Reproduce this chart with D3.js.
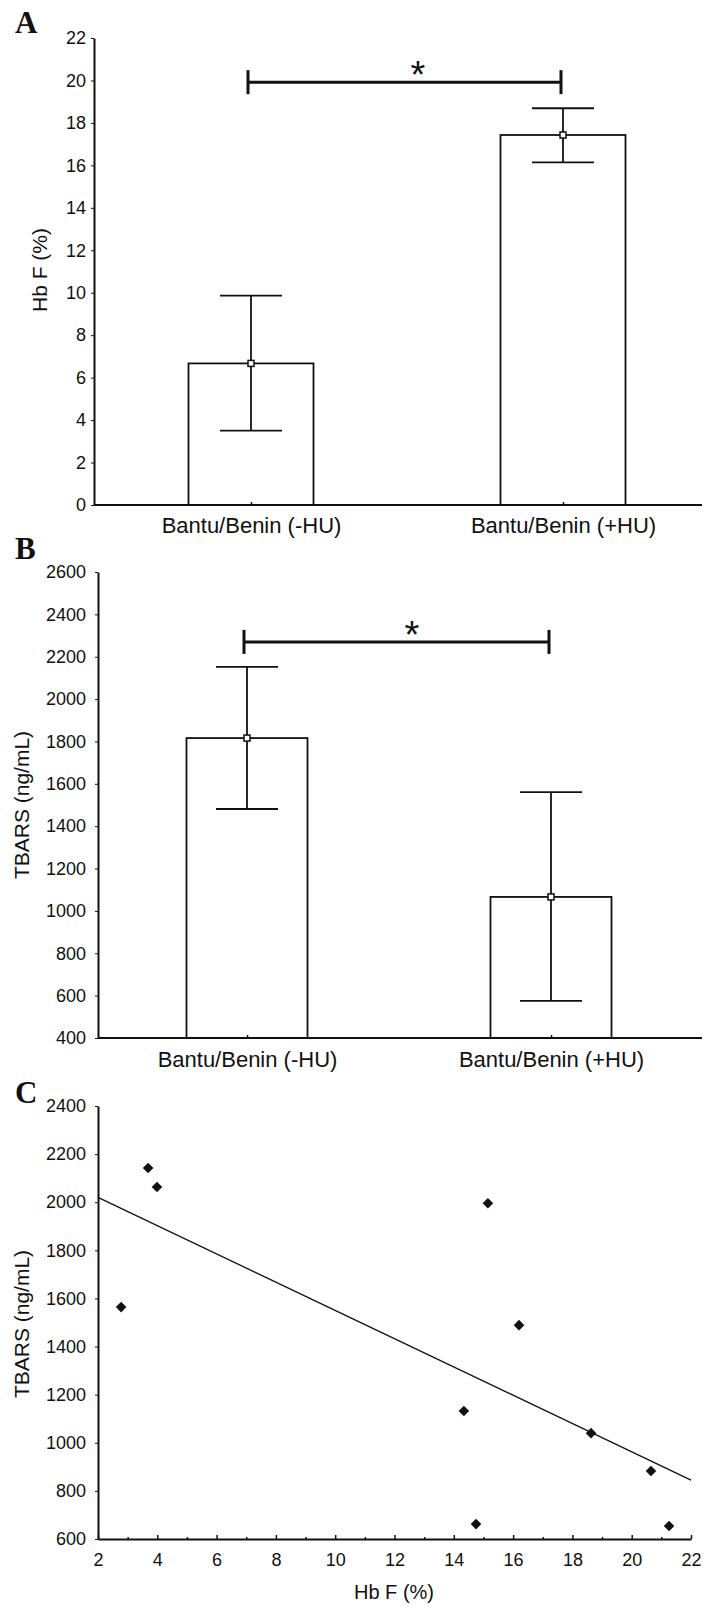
<!DOCTYPE html>
<html>
<head>
<meta charset="utf-8">
<script src="https://cdnjs.cloudflare.com/ajax/libs/d3/7.8.5/d3.min.js"></script>
<style>
	body { margin: 0; background: #fff; }
	svg { display: block; font-family: "Liberation Sans", Arial, sans-serif; }
	.axis text { fill: #111; font-size: 18px; font-family: "Liberation Sans", Arial, sans-serif; }
	.axis path, .axis line { stroke: #111; }
</style>
</head>
<body>
<svg id="fig" width="715" height="1607"></svg>
<script>
// data
var groups = ["Bantu/Benin (-HU)", "Bantu/Benin (+HU)"];

var hbfMean = [6.67, 17.43];
var hbfLow = [3.5, 16.14];
var hbfHigh = [9.86, 18.69];
var hbfTicks = [0, 2, 4, 6, 8, 10, 12, 14, 16, 18, 20, 22];
var hbfSig = 19.92;

var tbarsMean = [1816, 1066];
var tbarsLow = [1481, 575];
var tbarsHigh = [2152, 1561];
var tbarsTicks = [400, 600, 800, 1000, 1200, 1400, 1600, 1800, 2000, 2200, 2400, 2600];
var tbarsSig = 2270;

var scatterHbF = [2.78, 3.69, 3.99, 14.34, 14.75, 15.15, 16.2, 18.63, 20.65, 21.26];
var scatterTBARS = [1564, 2142, 2063, 1132, 662, 1996, 1489, 1040, 883, 654];
var fitX = [2, 22];
var fitY = [2020, 845];
var xTicksC = [2, 4, 6, 8, 10, 12, 14, 16, 18, 20, 22];
var xMinorC = [3, 5, 7, 9, 11, 13, 15, 17, 19, 21];
var yTicksC = [600, 800, 1000, 1200, 1400, 1600, 1800, 2000, 2200, 2400];

var fmt = d3.format("d");
var svg = d3.select("#fig");
svg.append("rect").attr("width", 715).attr("height", 1607).attr("fill", "#fff");

var panelLabel = function(txt, y) {
	svg.append("text").attr("x", 15).attr("y", y).text(txt)
		.style("font-family", "'Liberation Serif', 'Times New Roman', serif")
		.style("font-weight", "bold").style("font-size", "31px").attr("fill", "#111");
};

var yTitle = function(txt, cx, cy) {
	svg.append("text").attr("transform", "translate(" + cx + "," + cy + ") rotate(-90)")
		.attr("text-anchor", "middle").attr("dy", "0.35em")
		.style("font-size", "21px").attr("fill", "#111").text(txt);
};

// bar panel with error bars and significance bracket
var barPanel = function(opt) {
	var x = d3.scalePoint().domain(groups).range(opt.centers);
	var y = d3.scaleLinear().domain(opt.domain).range(opt.yRange);
	var g = svg.append("g");
	var bw = opt.barWidth, cap = 62;

	g.append("g").attr("class", "axis").attr("transform", "translate(" + opt.axisX + ",0)")
		.call(d3.axisLeft(y).tickValues(opt.ticks).tickFormat(fmt).tickSize(3).tickSizeOuter(0).tickPadding(opt.pad))
		.call(function(a) { a.select(".domain").attr("stroke-width", 2); });

	// baseline
	g.append("line").attr("x1", opt.axisX).attr("x2", 702)
		.attr("y1", y(opt.domain[0])).attr("y2", y(opt.domain[0]))
		.attr("stroke", "#111").attr("stroke-width", 2);

	var xa = g.append("g").attr("class", "axis").attr("transform", "translate(0," + y(opt.domain[0]) + ")")
		.call(d3.axisBottom(x).tickSize(-3).tickPadding(opt.labelPad));
	xa.select(".domain").remove();
	xa.selectAll("text").style("font-size", "22px");
	xa.selectAll("line").attr("stroke-width", 1.5);

	var rows = groups.map(function(d, i) {
		return { k: d, m: opt.mean[i], lo: opt.low[i], hi: opt.high[i] };
	});

	g.selectAll(".bar").data(rows).enter().append("rect")
		.attr("x", function(d) { return x(d.k) - bw / 2; })
		.attr("y", function(d) { return y(d.m); })
		.attr("width", bw)
		.attr("height", function(d) { return y(opt.domain[0]) - y(d.m); })
		.attr("fill", "none").attr("stroke", "#111").attr("stroke-width", 1.8);

	var eb = g.selectAll(".err").data(rows).enter().append("g").attr("stroke", "#111").attr("stroke-width", 1.8);
	eb.append("line")
		.attr("x1", function(d) { return x(d.k); }).attr("x2", function(d) { return x(d.k); })
		.attr("y1", function(d) { return y(d.lo); }).attr("y2", function(d) { return y(d.hi); });
	eb.append("line")
		.attr("x1", function(d) { return x(d.k) - cap / 2; }).attr("x2", function(d) { return x(d.k) + cap / 2; })
		.attr("y1", function(d) { return y(d.hi); }).attr("y2", function(d) { return y(d.hi); });
	eb.append("line")
		.attr("x1", function(d) { return x(d.k) - cap / 2; }).attr("x2", function(d) { return x(d.k) + cap / 2; })
		.attr("y1", function(d) { return y(d.lo); }).attr("y2", function(d) { return y(d.lo); });
	eb.append("rect")
		.attr("x", function(d) { return x(d.k) - 3; }).attr("y", function(d) { return y(d.m) - 3; })
		.attr("width", 6).attr("height", 6).attr("fill", "#fff").attr("stroke-width", 1.5);

	// significance bracket
	var sy = y(opt.sig), x1 = x(groups[0]) - 3, x2 = x(groups[1]) - 2;
	var br = g.append("g").attr("stroke", "#111").attr("stroke-width", 3);
	br.append("line").attr("x1", x1).attr("x2", x2).attr("y1", sy).attr("y2", sy);
	br.append("line").attr("x1", x1).attr("x2", x1).attr("y1", sy - 12).attr("y2", sy + 12);
	br.append("line").attr("x1", x2).attr("x2", x2).attr("y1", sy - 12).attr("y2", sy + 12);
	g.append("text").attr("x", opt.starX).attr("y", sy + 6).attr("text-anchor", "middle")
		.style("font-size", "38px").attr("fill", "#111").text("*");
};

panelLabel("A", 33);
barPanel({
	centers: [251, 563], barWidth: 125, axisX: 94, pad: 5, labelPad: 12,
	domain: [0, 22], yRange: [505, 38], ticks: hbfTicks,
	mean: hbfMean, low: hbfLow, high: hbfHigh, sig: hbfSig, starX: 418
});
yTitle("Hb F (%)", 40, 270);

panelLabel("B", 559);
barPanel({
	centers: [247, 551], barWidth: 121, axisX: 98, pad: 9, labelPad: 13,
	domain: [400, 2600], yRange: [1038, 572], ticks: tbarsTicks,
	mean: tbarsMean, low: tbarsLow, high: tbarsHigh, sig: tbarsSig, starX: 412
});
yTitle("TBARS (ng/mL)", 22, 805);

// scatter panel
panelLabel("C", 1103);
var xC = d3.scaleLinear().domain([2, 22]).range([98, 691]);
var yC = d3.scaleLinear().domain([600, 2400]).range([1539, 1106]);
var gc = svg.append("g");

gc.append("g").attr("class", "axis").attr("transform", "translate(98,0)")
	.call(d3.axisLeft(yC).tickValues(yTicksC).tickFormat(fmt).tickSize(3).tickSizeOuter(0).tickPadding(9))
	.call(function(a) { a.select(".domain").attr("stroke-width", 2); });

gc.append("g").attr("class", "axis").attr("transform", "translate(0,1539)")
	.call(d3.axisBottom(xC).tickValues(xTicksC).tickFormat(fmt).tickSize(-4).tickSizeOuter(0).tickPadding(14))
	.call(function(a) {
		a.select(".domain").attr("stroke-width", 2);
		a.selectAll("line").attr("stroke-width", 1.5);
	});
gc.append("g").attr("class", "axis").attr("transform", "translate(0,1539)")
	.call(d3.axisBottom(xC).tickValues(xMinorC).tickSize(-2).tickFormat(""))
	.call(function(a) { a.select(".domain").remove(); a.selectAll("line").attr("stroke-width", 1.5); });

gc.append("path")
	.datum(fitX.map(function(d, i) { return [d, fitY[i]]; }))
	.attr("fill", "none").attr("stroke", "#111").attr("stroke-width", 1.3)
	.attr("d", d3.line().x(function(d) { return xC(d[0]); }).y(function(d) { return yC(d[1]); }));

gc.selectAll(".pt").data(scatterHbF).enter().append("path")
	.attr("d", d3.symbol().type(d3.symbolSquare).size(56))
	.attr("transform", function(d, i) { return "translate(" + xC(d) + "," + yC(scatterTBARS[i]) + ") rotate(45)"; })
	.attr("fill", "#111");

svg.append("text").attr("x", 394).attr("y", 1599).attr("text-anchor", "middle")
	.style("font-size", "20px").attr("fill", "#111").text("Hb F (%)");
yTitle("TBARS (ng/mL)", 22, 1324);
</script>
</body>
</html>
